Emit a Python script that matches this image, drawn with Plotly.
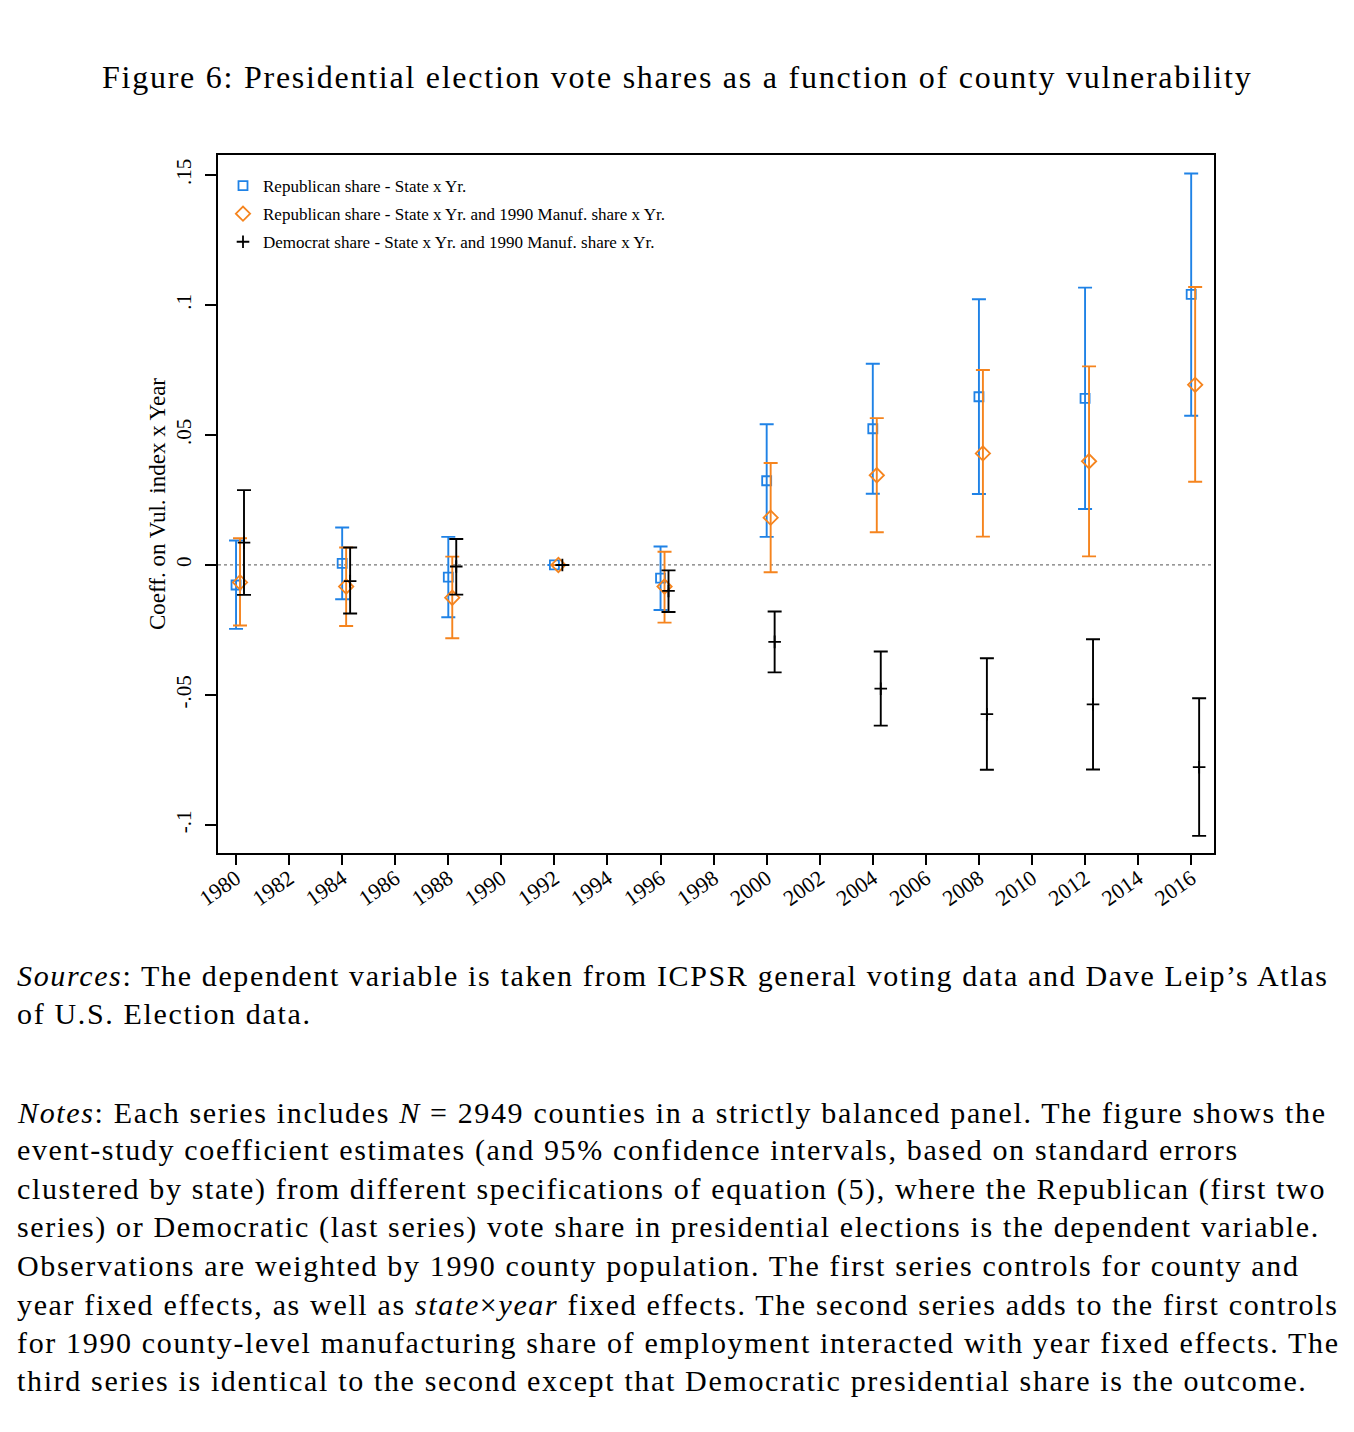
import numpy as np
import plotly.graph_objects as go

years = [1980, 1984, 1988, 1992, 1996, 2000, 2004, 2008, 2012, 2016]

# Series 1: Republican share - State x Yr.
rep1_coef = [-0.0077, 0.0006, -0.0047, 0.0, -0.0051, 0.0324, 0.0524, 0.0647, 0.0641, 0.1041]
rep1_lo = [-0.0246, -0.0132, -0.0201, None, -0.0173, 0.0108, 0.0274, 0.0273, 0.0215, 0.0574]
rep1_hi = [0.0094, 0.0144, 0.0108, None, 0.0071, 0.0541, 0.0774, 0.1022, 0.1067, 0.1506]

# Series 2: Republican share - State x Yr. and 1990 Manuf. share x Yr.
rep2_coef = [-0.0067, -0.0083, -0.0126, 0.0, -0.0083, 0.0182, 0.0345, 0.0429, 0.0399, 0.0693]
rep2_lo = [-0.0233, -0.0235, -0.0282, None, -0.0222, -0.0028, 0.0126, 0.0109, 0.0033, 0.0320]
rep2_hi = [0.0103, 0.0067, 0.0032, None, 0.0051, 0.0392, 0.0565, 0.0750, 0.0764, 0.1069]

# Series 3: Democrat share - State x Yr. and 1990 Manuf. share x Yr.
dem_coef = [0.0086, -0.0062, -0.0006, 0.0, -0.0100, -0.0296, -0.0476, -0.0574, -0.0536, -0.0778]
dem_lo = [-0.0115, -0.0187, -0.0114, None, -0.0181, -0.0413, -0.0618, -0.0788, -0.0787, -0.1042]
dem_hi = [0.0288, 0.0067, 0.0100, None, -0.0021, -0.0179, -0.0333, -0.0359, -0.0286, -0.0513]

x_tick_vals = list(range(1980, 2017, 2))
x_tick_text = [str(v) for v in x_tick_vals]
y_tick_vals = [-0.1, -0.05, 0, 0.05, 0.1, 0.15]
y_tick_text = ["-.1", "-.05", "0", ".05", ".1", ".15"]

series_names = [
    "Republican share - State x Yr.",
    "Republican share - State x Yr. and 1990 Manuf. share x Yr.",
    "Democrat share - State x Yr. and 1990 Manuf. share x Yr.",
]

title_text = "Figure 6: Presidential election vote shares as a function of county vulnerability"
sources_lines = [
    "<i>Sources</i>: The dependent variable is taken from ICPSR general voting data and Dave Leip\u2019s Atlas",
    "of U.S. Election data.",
]
notes_lines = [
    "<i>Notes</i>: Each series includes <i>N</i> = 2949 counties in a strictly balanced panel. The figure shows the",
    "event-study coefficient estimates (and 95% confidence intervals, based on standard errors",
    "clustered by state) from different specifications of equation (5), where the Republican (first two",
    "series) or Democratic (last series) vote share in presidential elections is the dependent variable.",
    "Observations are weighted by 1990 county population. The first series controls for county and",
    "year fixed effects, as well as <i>state</i>\u00d7<i>year</i> fixed effects. The second series adds to the first controls",
    "for 1990 county-level manufacturing share of employment interacted with year fixed effects. The",
    "third series is identical to the second except that Democratic presidential share is the outcome.",
]

BLUE = "#1f82e6"
ORANGE = "#f5841e"
BLACK = "#000000"
SERIF = "Liberation Serif, Times New Roman, serif"

W, H = 1354, 1432
OFF = 8  # page offset of the rendered figure


def px_x(x):
    return (x - OFF) / W


def px_y(y):
    return 1 - (y - OFF) / H


def err(coef, lo, hi):
    c = np.array(coef, dtype=float)
    l = np.array([np.nan if v is None else v for v in lo], dtype=float)
    h = np.array([np.nan if v is None else v for v in hi], dtype=float)
    return (h - c).tolist(), (c - l).tolist()


def spaced(txt, sp):
    return f'<span style="letter-spacing:{sp}px">{txt}</span>'


fig = go.Figure()
specs = [
    (rep1_coef, rep1_lo, rep1_hi, 0.0, BLUE, "square-open", 9, series_names[0]),
    (rep2_coef, rep2_lo, rep2_hi, 0.15, ORANGE, "diamond-open", 11, series_names[1]),
    (dem_coef, dem_lo, dem_hi, 0.3, BLACK, "cross-thin-open", 9, series_names[2]),
]
for i, (c, lo, hi, off, col, sym, sz, name) in enumerate(specs):
    up, dn = err(c, lo, hi)
    fig.add_trace(go.Scatter(
        x=[y + off for y in years], y=c, mode="markers", name=name,
        legendgroup=f"g{i}",
        marker=dict(symbol=sym, size=sz, color=col, line=dict(color=col, width=1.8)),
        error_y=dict(type="data", symmetric=False, array=up, arrayminus=dn,
                     color=col, thickness=1.9, width=7),
    ))

# dotted zero reference line
fig.add_shape(type="line", xref="x domain", yref="y", x0=0, x1=1, y0=0, y1=0,
              line=dict(color="#777777", width=1.2, dash="dot"), layer="below")

fig.update_layout(
    width=W, height=H,
    paper_bgcolor="white", plot_bgcolor="white",
    margin=dict(l=0, r=0, t=0, b=0, autoexpand=False),
    font=dict(family=SERIF, color="black"),
    showlegend=True,
    legend=dict(x=px_x(223), y=px_y(168), xanchor="left", yanchor="top",
                bgcolor="rgba(0,0,0,0)", font=dict(size=17, family=SERIF),
                tracegroupgap=3, itemwidth=30),
    xaxis=dict(domain=[px_x(218), px_x(1214)], range=[1979.32, 2016.86], automargin=False,
               tickmode="array", tickvals=x_tick_vals, ticktext=x_tick_text,
               tickangle=-35, tickfont=dict(size=22, family=SERIF),
               ticks="outside", ticklen=10, tickwidth=1.5, tickcolor="black",
               ticklabelstandoff=-8,
               showline=True, linecolor="black", linewidth=2, mirror=True,
               showgrid=False, zeroline=False),
    yaxis=dict(domain=[px_y(853), px_y(155)], range=[-0.1108, 0.1577], automargin=False,
               tickmode="array", tickvals=y_tick_vals, ticktext=y_tick_text,
               tickangle=-90, tickfont=dict(size=21, family=SERIF),
               ticks="outside", ticklen=11, tickwidth=1.5, tickcolor="black",
               ticklabelstandoff=6,
               showline=True, linecolor="black", linewidth=2, mirror=True,
               showgrid=False, zeroline=False,
               title=dict(text="Coeff. on Vul. index x Year", font=dict(size=23, family=SERIF),
                          standoff=0)),
)

annotations = [dict(text=spaced(title_text, 1.75), xref="paper", yref="paper",
                    x=px_x(100), y=px_y(77),
                    xanchor="left", yanchor="middle", showarrow=False,
                    font=dict(size=32, family=SERIF))]
for k, line in enumerate(sources_lines):
    annotations.append(dict(text=spaced(line, 1.65), xref="paper", yref="paper", x=px_x(15),
                            y=px_y(975 + 38.5 * k), xanchor="left", yanchor="middle",
                            showarrow=False, font=dict(size=30, family=SERIF)))
for k, line in enumerate(notes_lines):
    annotations.append(dict(text=spaced(line, 1.65), xref="paper", yref="paper", x=px_x(15),
                            y=px_y(1112 + 38.4 * k), xanchor="left", yanchor="middle",
                            showarrow=False, font=dict(size=30, family=SERIF)))
fig.update_layout(annotations=annotations)

fig.write_html("out.html")
